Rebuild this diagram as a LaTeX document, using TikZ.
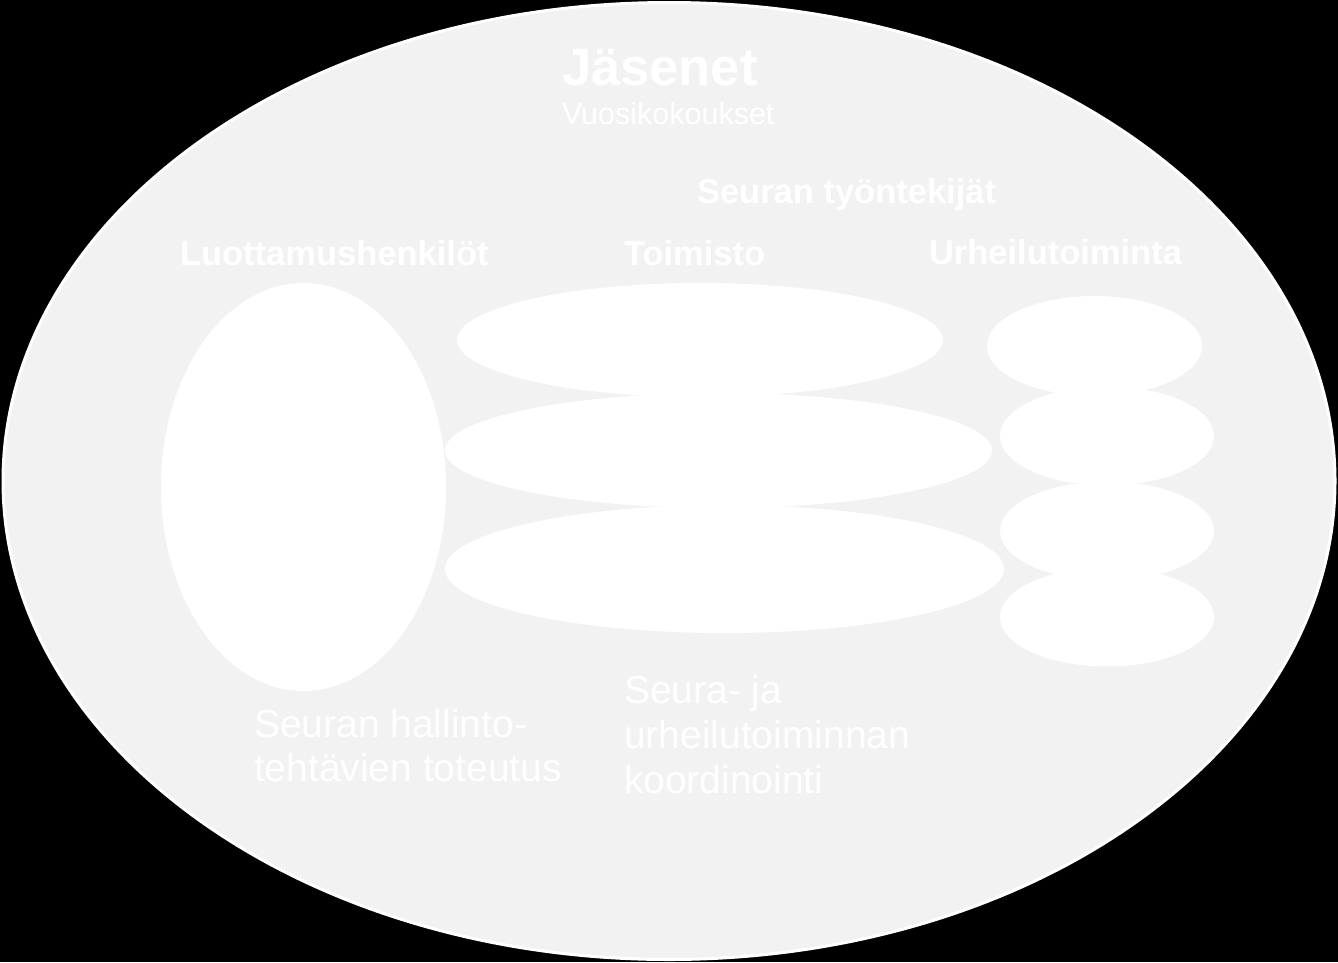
\documentclass[tikz,border=0pt]{standalone}
\usepackage{fontspec}
\setmainfont{Liberation Sans}
\usetikzlibrary{shapes.geometric}
\definecolor{bgell}{HTML}{F2F2F2}
\tikzset{
  blob/.style={ellipse, fill=white, draw=none, inner sep=0pt, outer sep=0pt},
  outerell/.style={ellipse, fill=bgell, draw=white, line width=3pt, inner sep=0pt, outer sep=0pt},
  txt/.style={text=white, inner sep=0pt, outer sep=0pt, anchor=base west},
  headbig/.style={txt, font=\bfseries\fontsize{52.5}{60}\selectfont},
  headsub/.style={txt, font=\fontsize{30.5}{36}\selectfont},
  headmid/.style={txt, font=\bfseries\fontsize{34.5}{40}\selectfont},
  bodytxt/.style={txt, font=\fontsize{39}{45}\selectfont}
}
\begin{document}
\begin{tikzpicture}[x=1pt,y=-1pt]
\useasboundingbox (0,0) rectangle (1338,962);
\fill[black] (0,0) rectangle (1338,962);
% outer ellipse
\node[outerell, minimum width=1332pt, minimum height=957pt] (members) at (669,481) {};
% left tall ellipse
\node[blob, minimum width=285pt, minimum height=408pt] (trust) at (303.5,487) {};
% middle stack
\node[blob, minimum width=486pt, minimum height=114pt] (off1) at (700,340) {};
\node[blob, minimum width=547pt, minimum height=115pt] (off2) at (718.5,450.5) {};
\node[blob, minimum width=559pt, minimum height=128pt] (off3) at (724.5,569) {};
% right stack
\node[blob, minimum width=215pt, minimum height=100pt] (sp1) at (1094.5,346) {};
\node[blob, minimum width=214pt, minimum height=99pt] (sp2) at (1107,436) {};
\node[blob, minimum width=214pt, minimum height=99pt] (sp3) at (1107,531) {};
\node[blob, minimum width=214pt, minimum height=99pt] (sp4) at (1107,617) {};
% texts
\node[headbig] (t1) at (562,85) {Jäsenet};
\node[headsub] (t2) at (562,124) {Vuosikokoukset};
\node[headmid] (t3) at (697,203) {Seuran työntekijät};
\node[headmid] (t4) at (180,265) {Luottamushenkilöt};
\node[headmid] (t5) at (624,265) {Toimisto};
\node[headmid] (t6) at (929,264) {Urheilutoiminta};
\node[bodytxt] (t7) at (254,737) {Seuran hallinto-};
\node[bodytxt] (t8) at (254,781) {tehtävien toteutus};
\node[bodytxt] (t9) at (624,703) {Seura- ja};
\node[bodytxt] (t10) at (624,748) {urheilutoiminnan};
\node[bodytxt] (t11) at (624,793) {koordinointi};
\end{tikzpicture}
\end{document}
